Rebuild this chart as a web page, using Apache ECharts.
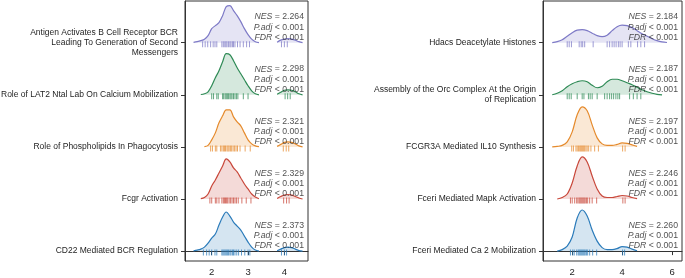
<!DOCTYPE html>
<html>
<head>
<meta charset="utf-8">
<script src="https://cdn.jsdelivr.net/npm/echarts@6/dist/echarts.min.js"></script>
<style>
  html, body { margin: 0; padding: 0; background: #fff; }
  #chart { width: 685px; height: 278px; }
</style>
</head>
<body>
<div id="chart"></div>
<script>
// rows are listed bottom -> top (row 0 sits at the bottom of each panel)
const leftNames = [
  "CD22 Mediated BCR Regulation",
  "Fcgr Activation",
  "Role of Phospholipids In Phagocytosis",
  "Role of LAT2 Ntal Lab On Calcium Mobilization",
  "Antigen Activates B Cell Receptor BCR\nLeading To Generation of Second\nMessengers",
];
const rightNames = [
  "Fceri Mediated Ca 2 Mobilization",
  "Fceri Mediated Mapk Activation",
  "FCGR3A Mediated IL10 Synthesis",
  "Assembly of the Orc Complex At the Origin\nof Replication",
  "Hdacs Deacetylate Histones",
];
const leftNES = ["2.373", "2.329", "2.321", "2.298", "2.264"];
const rightNES = ["2.260", "2.246", "2.197", "2.187", "2.184"];
const rowColors = ["#2b7bba", "#c8473a", "#e58a2c", "#2e8a55", "#7d79c6"];

// density grids (x values) and ridge heights, null = cut tail
const leftGrid = [1.4, 1.5, 1.6, 1.7, 1.8, 1.9, 2.0, 2.1, 2.2, 2.3, 2.4, 2.5, 2.6, 2.7, 2.8, 2.9, 3.0,
  3.1, 3.2, 3.3, 3.4, 3.5, 3.6, 3.7, 3.8, 3.9, 4.0, 4.1, 4.2, 4.3, 4.4, 4.5, 4.6];
const leftBlue = [null, 0.3, 1, 2, 4, 8, 13, 17, 26, 34, 39, 35, 29, 25, 21, 15, 9,
  4, 1, 0, null, null, null, null, 0.3, 2, 3.5, 4, 3.5, 2, 0.5, 0, null];
const leftRed = [null, null, null, 0.3, 1.5, 5, 13, 19, 26, 33, 40, 37, 31, 27, 21, 15, 10,
  5, 2, 0.3, null, null, null, null, 0.5, 2.5, 4, 4.5, 4, 2.5, 1, 0, null];
const leftOrange = [null, null, null, null, 0.3, 1.5, 7, 14, 24, 31, 37, 37, 30, 25, 21, 14, 7,
  3, 1, 0.3, null, null, null, null, 0.5, 2.5, 4.5, 5, 4.5, 3, 1, 0, null];
const leftGreen = [null, null, null, 0.3, 1, 3, 9, 17, 24, 33, 41, 40, 34, 27, 21, 15, 9,
  4, 1, 0, null, null, null, null, 0.5, 2.5, 4.5, 5, 4.5, 3, 1, 0, null];
const leftPurple = [null, 0.3, 1, 2, 3.5, 7, 14, 17, 20, 27, 36, 37, 32, 27, 21, 14, 8,
  3.5, 1, 0, null, null, null, null, 0.5, 2.5, 3.5, 4, 3.5, 2.5, 1, 0, null];

const rightGrid = [1.2, 1.4, 1.6, 1.8, 2.0, 2.2, 2.4, 2.6, 2.8, 3.0, 3.2, 3.4, 3.6, 3.8, 4.0,
  4.2, 4.4, 4.6, 4.8, 5.0, 5.2, 5.4, 5.6, 5.8, 6.0];
const rightBlue = [null, 0, 1.5, 5, 14, 33, 41, 35, 21, 10, 3.5, 1.5, 1.5, 2.5, 4.5,
  4, 2, 0.3, null, null, null, null, null, null, null];
const rightRed = [null, 0, 1.5, 5, 16, 33, 42, 37, 23, 10, 3, 1.5, 1.5, 2.5, 3.5,
  3, 1.5, 0.3, null, null, null, null, null, null, null];
const rightOrange = [0, 0.5, 1.5, 5, 15, 32, 40, 36, 22, 9, 3, 1.5, 1.5, 2.5, 4,
  3.5, 2, 0.5, null, null, null, null, null, null, null];
const rightGreen = [0, 1.5, 4, 8, 11, 13, 14, 13, 9.5, 7, 8.5, 13, 15.5, 15.5, 14,
  12, 10, 7.5, 5, 3, 1.5, 0.5, 0, null, null];
const rightPurple = [0, 1, 3, 6.5, 10, 12.5, 13, 12, 9.5, 7, 6, 7.5, 12, 16, 17.5,
  17, 15, 12, 9, 6.5, 4, 2, 0.8, 0.2, null];

// gene scores (rug marks)
const leftRugBlue = [1.77, 1.86, 1.93, 2.0, 2.09, 2.14, 2.28, 2.31, 2.34, 2.37, 2.4, 2.43, 2.46, 2.5,
  2.53, 2.57, 2.6, 2.64, 2.69, 2.74, 2.82, 2.91, 3.0, 3.05, 3.92, 4.0, 4.06];
const leftRugRed = [1.95, 2.0, 2.1, 2.14, 2.2, 2.28, 2.32, 2.35, 2.38, 2.41, 2.44, 2.48, 2.52, 2.56,
  2.6, 2.64, 2.68, 2.73, 2.83, 2.95, 3.08, 3.98, 4.06, 4.13];
const leftRugOrange = [1.97, 2.02, 2.1, 2.14, 2.24, 2.28, 2.32, 2.35, 2.38, 2.42, 2.45, 2.48, 2.52,
  2.55, 2.59, 2.63, 2.67, 2.71, 2.78, 2.92, 3.06, 3.97, 4.05, 4.12];
const leftRugGreen = [2.0, 2.05, 2.14, 2.18, 2.3, 2.33, 2.37, 2.4, 2.43, 2.46, 2.5, 2.53, 2.56, 2.6,
  2.64, 2.68, 2.72, 2.87, 3.0, 4.02, 4.09, 4.16];
const leftRugPurple = [1.75, 1.82, 1.89, 1.97, 2.04, 2.09, 2.14, 2.28, 2.32, 2.36, 2.39, 2.42, 2.46,
  2.5, 2.53, 2.57, 2.6, 2.64, 2.71, 2.78, 2.87, 2.96, 3.04, 3.92, 4.0, 4.08];

const rightRugBlue = [1.93, 2.02, 2.08, 2.18, 2.24, 2.28, 2.32, 2.36, 2.4, 2.44, 2.48, 2.52, 2.57,
  2.62, 2.7, 2.82, 2.98, 4.02, 4.1];
const rightRugRed = [1.93, 2.0, 2.1, 2.18, 2.23, 2.28, 2.32, 2.36, 2.4, 2.44, 2.48, 2.52, 2.57,
  2.62, 2.7, 2.8, 2.98, 4.03, 4.12];
const rightRugOrange = [1.98, 2.05, 2.15, 2.2, 2.25, 2.3, 2.34, 2.38, 2.42, 2.46, 2.5, 2.55, 2.6,
  2.66, 2.75, 2.9, 3.05, 4.02, 4.12];
const rightRugGreen = [1.8, 1.88, 1.96, 2.2, 2.4, 2.47, 2.65, 2.72, 2.8, 3.0, 3.3, 3.4, 3.5, 3.58,
  3.66, 3.75, 3.83, 3.9, 4.3, 4.45, 4.6, 4.75];
const rightRugPurple = [1.8, 1.88, 1.97, 2.28, 2.36, 2.42, 2.5, 2.84, 3.4, 3.5, 3.6, 3.68, 3.76,
  3.85, 3.92, 4.0, 4.25, 4.35, 4.62, 4.75, 4.9];

const leftTicks = [2, 3, 4];
const rightTicks = [2, 4, 6];
const rowTicks = [0, 1, 2, 3, 4];

const panels = [
  { names: leftNames, nes: leftNES, grid: leftGrid, xMin: 1.265, xMax: 4.65, ticks: leftTicks,
    dens: [leftBlue, leftRed, leftOrange, leftGreen, leftPurple],
    rugs: [leftRugBlue, leftRugRed, leftRugOrange, leftRugGreen, leftRugPurple] },
  { names: rightNames, nes: rightNES, grid: rightGrid, xMin: 0.83, xMax: 6.4, ticks: rightTicks,
    dens: [rightBlue, rightRed, rightOrange, rightGreen, rightPurple],
    rugs: [rightRugBlue, rightRugRed, rightRugOrange, rightRugGreen, rightRugPurple] },
];

const ROW_PX = 52; // density height unit -> one row
const FONT = "'Liberation Sans', Arial, sans-serif";
const INK = "#1e1e1e";

const chart = echarts.init(document.getElementById("chart"), null, { renderer: "canvas" });

const series = [];
panels.forEach((p, pi) => {
  p.dens.forEach((h, r) => {
    series.push({
      type: "line",
      xAxisIndex: pi,
      yAxisIndex: pi,
      smooth: 0.35,
      symbol: "none",
      silent: true,
      connectNulls: false,
      data: p.grid.map((x, i) => (h[i] == null ? [x, "-"] : [x, r + h[i] / ROW_PX])),
      lineStyle: { color: rowColors[r], width: 1.2 },
      areaStyle: { color: rowColors[r], opacity: 0.2, origin: r },
      z: 3,
    });
    series.push({
      type: "scatter",
      xAxisIndex: pi,
      yAxisIndex: pi,
      silent: true,
      symbol: "rect",
      symbolSize: [1, 6],
      symbolOffset: [0, 1.5],
      data: p.rugs[r].map((v) => [v, r]),
      itemStyle: { color: rowColors[r], opacity: 0.75 },
      z: 2,
    });
  });
  series.push({
    type: "scatter",
    xAxisIndex: pi,
    yAxisIndex: pi,
    silent: true,
    symbolSize: 0,
    data: p.nes.map((n, r) => ({ value: [p.xMax, r], nes: n })),
    label: {
      show: true,
      position: "left",
      distance: 4,
      offset: [0, -15.5],
      align: "right",
      fontFamily: FONT,
      fontSize: 8.7,
      lineHeight: 10.2,
      color: INK,
      formatter: (d) =>
        "{i|NES} = " + p.nes[d.dataIndex] + "\n{i|P.adj} < 0.001\n{i|FDR} < 0.001",
      rich: {
        i: { fontStyle: "italic", fontFamily: FONT, fontSize: 8.7, lineHeight: 10.2, color: INK },
      },
    },
    z: 4,
  });
});

const grids = [
  { left: 185, right: 377, top: 1, bottom: 17 },
  { left: 543, right: 3, top: 1, bottom: 17 },
].map((g) => Object.assign({
  show: true, borderColor: "#333", borderWidth: 1, containLabel: false, outerBoundsMode: "none",
}, g));

chart.setOption({
  animation: false,
  backgroundColor: "#fff",
  grid: grids,
  xAxis: panels.map((p, pi) => ({
    type: "value",
    gridIndex: pi,
    min: p.xMin,
    max: p.xMax,
    axisLine: { show: true, lineStyle: { color: "#333" } },
    axisTick: { show: true, customValues: p.ticks, length: 4, lineStyle: { color: "#333" } },
    axisLabel: { customValues: p.ticks, fontFamily: FONT, fontSize: 9.5, color: INK, margin: 6 },
    splitLine: { show: false },
  })),
  yAxis: panels.map((p, pi) => ({
    type: "value",
    gridIndex: pi,
    min: -0.19,
    max: 4.8,
    axisLine: { show: true, lineStyle: { color: "#333" } },
    axisTick: { show: true, customValues: rowTicks, length: 4, lineStyle: { color: "#333" } },
    axisLabel: {
      customValues: rowTicks,
      formatter: (v) => p.names[Math.round(v)],
      fontFamily: FONT,
      fontSize: 8.5,
      lineHeight: 9.6,
      color: INK,
      margin: 7,
      align: "right",
    },
    splitLine: { show: false },
  })),
  series: series,
});
</script>
</body>
</html>
